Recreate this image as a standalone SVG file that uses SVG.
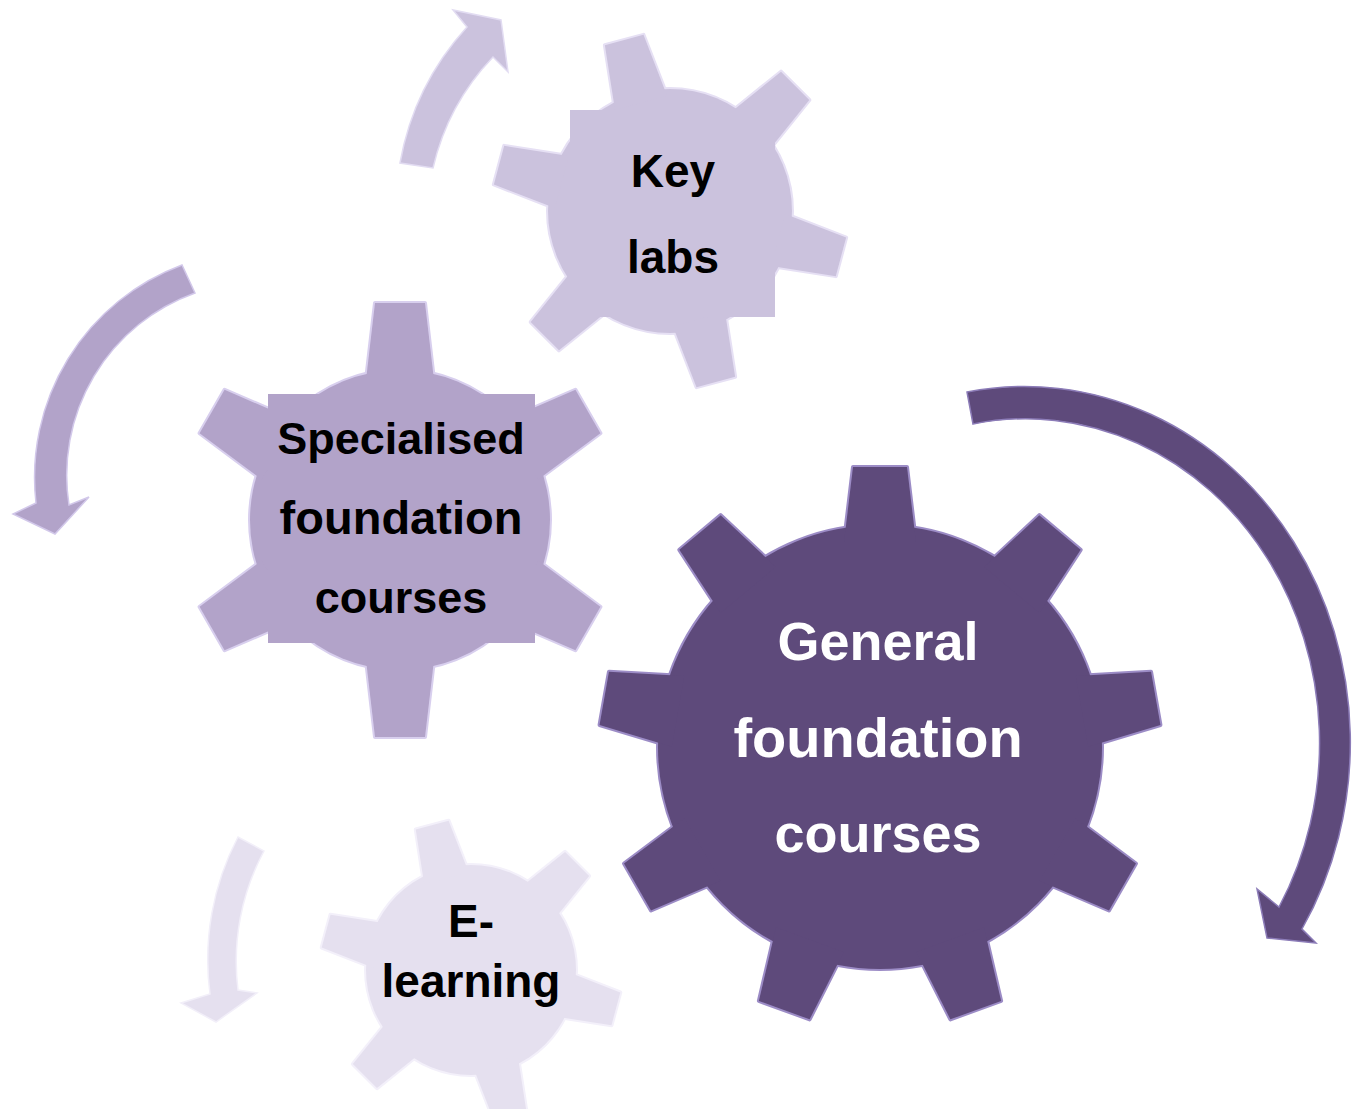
<svg xmlns="http://www.w3.org/2000/svg" xmlns:xlink="http://www.w3.org/1999/xlink" width="1355" height="1109" viewBox="0 0 1355 1109">
  <style>
    .lbl { font-family: "Liberation Sans", Arial, sans-serif; font-weight: bold; text-anchor: middle; }
    .dark { fill: #000000; }
    .light { fill: #FFFFFF; }
    .c1 { fill: #5E4A7B; }
    .c2 { fill: #B2A3C9; }
    .c3 { fill: #CBC2DD; }
    .c4 { fill: #E5E0EF; }
    .o1 { fill: none; stroke: #9C8CC6; stroke-width: 4; stroke-linejoin: round; }
    .o2 { fill: none; stroke: #D8CFEE; stroke-width: 4; stroke-linejoin: round; }
    .o3 { fill: none; stroke: #E6E0F4; stroke-width: 4; stroke-linejoin: round; }
    .o4 { fill: none; stroke: #F3F0FA; stroke-width: 4; stroke-linejoin: round; }
    .a1 { fill: #5E4A7B; stroke: #8C7CB8; stroke-width: 1.5; }
    .a2 { fill: #B2A3C9; stroke: #D2C8EA; stroke-width: 1.5; }
    .a3 { fill: #CBC2DD; stroke: #E2DCF2; stroke-width: 1.5; }
    .a4 { fill: #E5E0EF; stroke: #F2EFF9; stroke-width: 1.5; }
  </style>
  <defs>
    <polygon id="t1" points="-36,-205 -27,-280 27,-280 36,-205"/>
    <polygon id="t2" points="-34,-140 -25,-217 25,-217 34,-140"/>
    <polygon id="t3" points="-27,-112 -20,-177 20,-177 27,-112"/>
    <polygon id="t4" points="-23,-95 -17,-150 17,-150 23,-95"/>
    <g id="gear1">
      <circle cx="0" cy="0" r="222"/>
      <use xlink:href="#t1" transform="rotate(0)"/>
      <use xlink:href="#t1" transform="rotate(40)"/>
      <use xlink:href="#t1" transform="rotate(80)"/>
      <use xlink:href="#t1" transform="rotate(120)"/>
      <use xlink:href="#t1" transform="rotate(160)"/>
      <use xlink:href="#t1" transform="rotate(200)"/>
      <use xlink:href="#t1" transform="rotate(240)"/>
      <use xlink:href="#t1" transform="rotate(280)"/>
      <use xlink:href="#t1" transform="rotate(320)"/>
    </g>
    <g id="gear2">
      <circle cx="0" cy="0" r="150"/>
      <use xlink:href="#t2" transform="rotate(0)"/>
      <use xlink:href="#t2" transform="rotate(60)"/>
      <use xlink:href="#t2" transform="rotate(120)"/>
      <use xlink:href="#t2" transform="rotate(180)"/>
      <use xlink:href="#t2" transform="rotate(240)"/>
      <use xlink:href="#t2" transform="rotate(300)"/>
    </g>
    <g id="gear3">
      <circle cx="0" cy="0" r="122"/>
      <use xlink:href="#t3" transform="rotate(-15)"/>
      <use xlink:href="#t3" transform="rotate(45)"/>
      <use xlink:href="#t3" transform="rotate(105)"/>
      <use xlink:href="#t3" transform="rotate(165)"/>
      <use xlink:href="#t3" transform="rotate(225)"/>
      <use xlink:href="#t3" transform="rotate(285)"/>
    </g>
    <g id="gear4">
      <circle cx="0" cy="0" r="105"/>
      <use xlink:href="#t4" transform="rotate(45)"/>
      <use xlink:href="#t4" transform="rotate(105)"/>
      <use xlink:href="#t4" transform="rotate(165)"/>
      <use xlink:href="#t4" transform="rotate(225)"/>
      <use xlink:href="#t4" transform="rotate(285)"/>
      <use xlink:href="#t4" transform="rotate(345)"/>
    </g>
  </defs>

  <rect x="0" y="0" width="1355" height="1109" fill="#FFFFFF"/>

  <g id="connectors">
    <path id="arrow-general" class="a1" d="M 967,392 A 326,356 0 0,1 1302,929 L 1316,943 L 1267,938 L 1257,889 L 1279,907 A 294,324 0 0,0 973,424 Z"/>
    <path id="arrow-specialised" class="a2" d="M 182,265 A 226.5,226.5 0 0,0 36,503 L 13,514 L 55,534 L 89,497 L 69,505 A 193.5,193.5 0 0,1 195,293 Z"/>
    <path id="arrow-keylabs" class="a3" d="M 400,163 A 272,272 0 0,1 467,27 L 453,10 L 501,20 L 508,72 L 493,57 A 238,238 0 0,0 433,168 Z"/>
    <path id="arrow-elearning" class="a4" d="M 238,837 A 263,263 0 0,0 210,994 L 181,1003 L 216,1022 L 257,993 L 238,990 A 233,233 0 0,1 264,851 Z"/>
  </g>

  <g id="node-elearning">
    <use xlink:href="#gear4" class="o4" transform="translate(471,970)"/>
    <use xlink:href="#gear4" class="c4" transform="translate(471,970)"/>
    <text class="lbl dark" x="471" y="937" font-size="46">E-</text>
    <text class="lbl dark" x="471" y="997" font-size="46">learning</text>
  </g>

  <g id="node-keylabs">
    <use xlink:href="#gear3" class="o3" transform="translate(670,211)"/>
    <use xlink:href="#gear3" class="c3" transform="translate(670,211)"/>
    <rect class="c3" x="570" y="110" width="205" height="207"/>
    <text class="lbl dark" x="673" y="187" font-size="46">Key</text>
    <text class="lbl dark" x="673" y="273" font-size="46">labs</text>
  </g>

  <g id="node-specialised">
    <use xlink:href="#gear2" class="o2" transform="translate(400,520)"/>
    <use xlink:href="#gear2" class="c2" transform="translate(400,520)"/>
    <rect class="c2" x="268" y="394" width="267" height="249"/>
    <text class="lbl dark" x="401" y="454" font-size="45">Specialised</text>
    <text class="lbl dark" x="401" y="534" font-size="47">foundation</text>
    <text class="lbl dark" x="401" y="613" font-size="45">courses</text>
  </g>

  <g id="node-general">
    <use xlink:href="#gear1" class="o1" transform="translate(880,747)"/>
    <use xlink:href="#gear1" class="c1" transform="translate(880,747)"/>
    <text class="lbl light" x="878" y="660" font-size="54">General</text>
    <text class="lbl light" x="878" y="757" font-size="56">foundation</text>
    <text class="lbl light" x="878" y="852" font-size="54">courses</text>
  </g>
</svg>
